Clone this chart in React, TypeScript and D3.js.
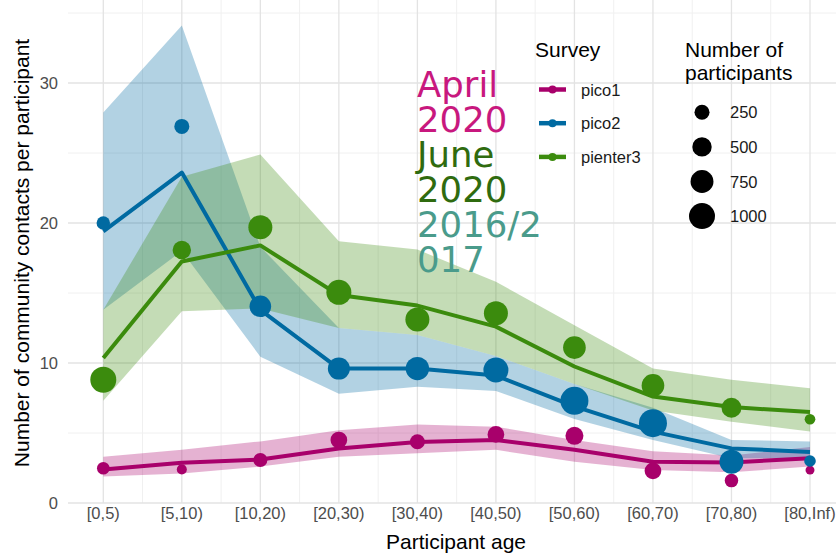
import React from "react";
import * as d3 from "d3";

const ages = ["[0,5)", "[5,10)", "[10,20)", "[20,30)", "[30,40)", "[40,50)", "[50,60)", "[60,70)", "[70,80)", "[80,Inf)"];

const pico1Obs = [2.48, 2.4, 3.07, 4.5, 4.38, 4.9, 4.8, 2.3, 1.6, 2.35];
const pico1N = [140, 44, 204, 340, 250, 340, 416, 340, 180, 10];
const pico1Fit = [2.4, 2.88, 3.1, 3.9, 4.35, 4.5, 3.8, 2.95, 2.9, 3.2];
const pico1Lo = [1.9, 2.1, 2.6, 3.3, 3.55, 3.8, 2.95, 2.35, 2.2, 2.6];
const pico1Hi = [3.3, 3.8, 4.4, 5.2, 5.6, 5.45, 4.5, 3.7, 3.4, 4.0];

const pico2Obs = [20.0, 26.9, 14.05, 9.6, 9.6, 9.5, 7.3, 5.7, 2.95, 3.0];
const pico2N = [176, 252, 653, 681, 785, 915, 1179, 1179, 834, 100];
const pico2Fit = [19.4, 23.6, 13.8, 9.6, 9.6, 9.1, 6.9, 5.1, 3.9, 3.65];
const pico2Lo = [13.8, 18.0, 10.45, 7.8, 8.3, 8.0, 6.0, 4.5, 3.2, 3.2];
const pico2Hi = [27.9, 34.1, 18.3, 12.5, 12.0, 10.5, 8.5, 6.8, 4.5, 4.4];

const pienter3Obs = [8.8, 18.07, 19.7, 15.05, 13.1, 13.55, 11.1, 8.4, 6.8, 5.98];
const pienter3N = [1000, 440, 834, 915, 834, 834, 730, 730, 540, 65];
const pienter3Fit = [10.35, 17.25, 18.4, 14.85, 14.1, 12.6, 9.75, 7.6, 6.85, 6.5];
const pienter3Lo = [7.3, 13.7, 13.9, 12.5, 12.0, 10.5, 8.5, 6.6, 5.8, 5.1];
const pienter3Hi = [13.8, 23.3, 24.9, 18.7, 18.1, 15.8, 12.7, 9.6, 8.8, 8.2];

const surveyNames = ["pico1", "pico2", "pienter3"];
const surveyColors = ["#a8006b", "#006aa1", "#3b8b0d"];
const yMajor = [0, 10, 20, 30];
const yMinor = [5, 15, 25, 35];
const sizeBreaks = [250, 500, 750, 1000];
const annotLines = ["April", "2020", "June", "2020", "2016/2", "017"];
const annotColors = ["#c8187e", "#c8187e", "#2f6b0f", "#2f6b0f", "#4a9b8b", "#4a9b8b"];

const series = [
  { obs: pico1Obs, n: pico1N, fit: pico1Fit, lo: pico1Lo, hi: pico1Hi },
  { obs: pico2Obs, n: pico2N, fit: pico2Fit, lo: pico2Lo, hi: pico2Hi },
  { obs: pienter3Obs, n: pienter3N, fit: pienter3Fit, lo: pienter3Lo, hi: pienter3Hi },
];

const W = 836, H = 558;
const panelL = 68, panelR = 836, panelT = 0, panelB = 503;

export default function App() {
  const x = d3.scalePoint<string>().domain(ages).range([103.3, 810]);
  const y = d3.scaleLinear().domain([0, 35]).range([503, 13]);
  const area2 = d3.scaleLinear().domain([250, 1000]).range([7.5 * 7.5, 13 * 13]);
  const rad = (n: number) => Math.sqrt(Math.max(area2(n), 4));
  const step = x.step();

  const font = "'Liberation Sans', Arial, Helvetica, sans-serif";

  return (
    <svg width={W} height={H} style={{ position: "absolute", left: 0, top: 0, background: "#fff" }} fontFamily={font}>
      <rect x={0} y={0} width={W} height={H} fill="#fff" />
      {/* grid */}
      {yMinor.map((v) => (
        <line key={"ym" + v} x1={panelL} x2={panelR} y1={y(v)} y2={y(v)} stroke="#f0f0f0" strokeWidth={1} />
      ))}
      {ages.slice(0, -1).map((a, i) => {
        const xm = (x(a) as number) + step / 2;
        return <line key={"xm" + i} x1={xm} x2={xm} y1={panelT} y2={panelB} stroke="#f0f0f0" strokeWidth={1} />;
      })}
      {yMajor.map((v) => (
        <line key={"yM" + v} x1={panelL} x2={panelR} y1={y(v)} y2={y(v)} stroke="#e3e3e3" strokeWidth={1.3} />
      ))}
      {ages.map((a) => (
        <line key={"xM" + a} x1={x(a)} x2={x(a)} y1={panelT} y2={panelB} stroke="#e3e3e3" strokeWidth={1.3} />
      ))}

      {/* ribbons */}
      {series.map((s, k) => {
        const gen = d3
          .area<number>()
          .x((_, i) => x(ages[i]) as number)
          .y0((_, i) => y(s.lo[i]))
          .y1((_, i) => y(s.hi[i]));
        return <path key={"rib" + k} d={gen(s.fit) || ""} fill={surveyColors[k]} fillOpacity={0.3} />;
      })}

      {/* lines */}
      {series.map((s, k) => {
        const gen = d3
          .line<number>()
          .x((_, i) => x(ages[i]) as number)
          .y((d) => y(d));
        return (
          <path key={"ln" + k} d={gen(s.fit) || ""} fill="none" stroke={surveyColors[k]} strokeWidth={4} strokeLinejoin="round" />
        );
      })}

      {/* points */}
      {series.map((s, k) =>
        s.obs.map((v, i) => (
          <circle key={"pt" + k + "-" + i} cx={x(ages[i])} cy={y(v)} r={rad(s.n[i])} fill={surveyColors[k]} />
        ))
      )}

      {/* annotation */}
      {annotLines.map((t, i) => (
        <text
          key={"an" + i}
          x={417}
          y={96.5 + i * 35}
          fill={annotColors[i]}
          fontFamily="'DejaVu Sans', sans-serif"
          fontSize={35.5}
        >
          {t}
        </text>
      ))}

      {/* y axis ticks */}
      {yMajor.map((v) => (
        <text key={"yt" + v} x={58} y={y(v) + 6} textAnchor="end" fontSize={16.5} fill="#4d4d4d">
          {v}
        </text>
      ))}
      {/* x axis ticks */}
      {ages.map((a) => (
        <text key={"xt" + a} x={x(a)} y={519} textAnchor="middle" fontSize={16.5} fill="#4d4d4d">
          {a}
        </text>
      ))}
      <text x={456} y={549} textAnchor="middle" fontSize={21} fill="#000">
        Participant age
      </text>
      <text transform={`translate(29,253) rotate(-90)`} textAnchor="middle" fontSize={21} fill="#000">
        Number of community contacts per participant
      </text>

      {/* legend: survey */}
      <text x={535} y={57} fontSize={21} fill="#000">
        Survey
      </text>
      {surveyNames.map((nm, i) => {
        const cy = 89.5 + i * 33.7;
        return (
          <g key={"lg" + nm}>
            <line x1={539} x2={566} y1={cy} y2={cy} stroke={surveyColors[i]} strokeWidth={4.5} />
            <circle cx={552.5} cy={cy} r={4} fill={surveyColors[i]} />
            <text x={581} y={cy + 6} fontSize={16.5} fill="#1a1a1a">
              {nm}
            </text>
          </g>
        );
      })}

      {/* legend: size */}
      <text x={685} y={57} fontSize={21} fill="#000">
        Number of
      </text>
      <text x={685} y={80} fontSize={21} fill="#000">
        participants
      </text>
      {sizeBreaks.map((b, i) => {
        const cy = 112.3 + i * 34.6;
        return (
          <g key={"sz" + b}>
            <circle cx={702} cy={cy} r={rad(b)} fill="#000" />
            <text x={730} y={cy + 6} fontSize={16.5} fill="#1a1a1a">
              {b}
            </text>
          </g>
        );
      })}
    </svg>
  );
}
